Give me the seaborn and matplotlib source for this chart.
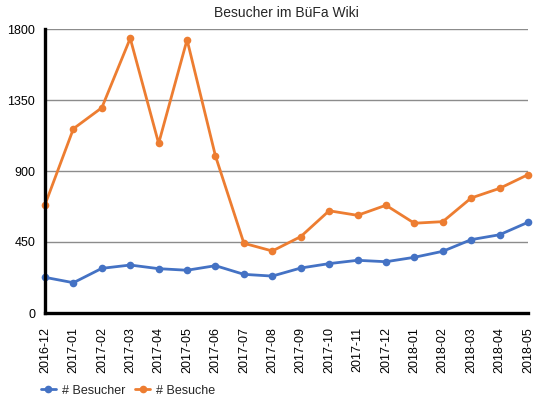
import matplotlib
matplotlib.use("Agg")
import matplotlib.pyplot as plt
import pandas as pd
import seaborn as sns

# monthly values
months = ["2016-12", "2017-01", "2017-02", "2017-03", "2017-04", "2017-05",
          "2017-06", "2017-07", "2017-08", "2017-09", "2017-10", "2017-11",
          "2017-12", "2018-01", "2018-02", "2018-03", "2018-04", "2018-05"]
besucher = [226, 192, 283, 304, 281, 271, 300, 245, 234, 285, 313, 334,
            325, 353, 391, 465, 496, 575]
besuche = [686, 1168, 1301, 1741, 1075, 1732, 995, 442, 393, 484, 648, 619,
           683, 569, 579, 729, 790, 877]
series_names = ["# Besucher", "# Besuche"]
colors = ["#4472C4", "#ED7D31"]
yticks = [0, 450, 900, 1350, 1800]

sns.set_theme(style="white")
plt.rcParams["font.family"] = ["Liberation Sans", "DejaVu Sans"]

df = pd.DataFrame({
    "pos": list(range(len(months))) * 2,
    "value": besucher + besuche,
    "series": [series_names[0]] * len(months) + [series_names[1]] * len(months),
})

fig = plt.figure(figsize=(5.34, 3.96), dpi=100)
ax = fig.add_axes([45 / 534, 83 / 396, 483 / 534, 284 / 396])

sns.lineplot(data=df, x="pos", y="value", hue="series", palette=colors,
             marker="o", markersize=5.5, markeredgewidth=0, linewidth=2,
             ax=ax, legend=False, clip_on=False, zorder=3)

ax.set_xlim(0, len(months) - 1)
ax.set_ylim(0, 1800)
ax.set_xticks(range(len(months)))
ax.set_xticklabels(months, rotation=90, fontsize=9)
ax.set_yticks(yticks)
ax.set_yticklabels([str(v) for v in yticks], fontsize=9)
ax.set_xlabel("")
ax.set_ylabel("")

ax.grid(axis="y", color="#8c8c8c", linewidth=1)
ax.set_axisbelow(True)
for side in ["top", "right"]:
    ax.spines[side].set_visible(False)
for side in ["left", "bottom"]:
    ax.spines[side].set_color("black")
    ax.spines[side].set_linewidth(2.4)
    ax.spines[side].set_zorder(4)
ax.tick_params(axis="both", direction="out", length=4, width=2, color="black",
               labelcolor="black", pad=3)
ax.tick_params(axis="x", pad=6)

ax.set_title("Besucher im BüFa Wiki", fontsize=10, pad=9)

handles = [plt.Line2D([], [], color=c, marker="o", markersize=5.5,
                      markeredgewidth=0, linewidth=2) for c in colors]
fig.legend(handles, series_names, loc="lower left", bbox_to_anchor=(0.055, -0.03),
           ncol=2, frameon=False, fontsize=9, handlelength=1.2,
           handletextpad=0.5, columnspacing=0.8)

fig.savefig("out.png", dpi=100)
